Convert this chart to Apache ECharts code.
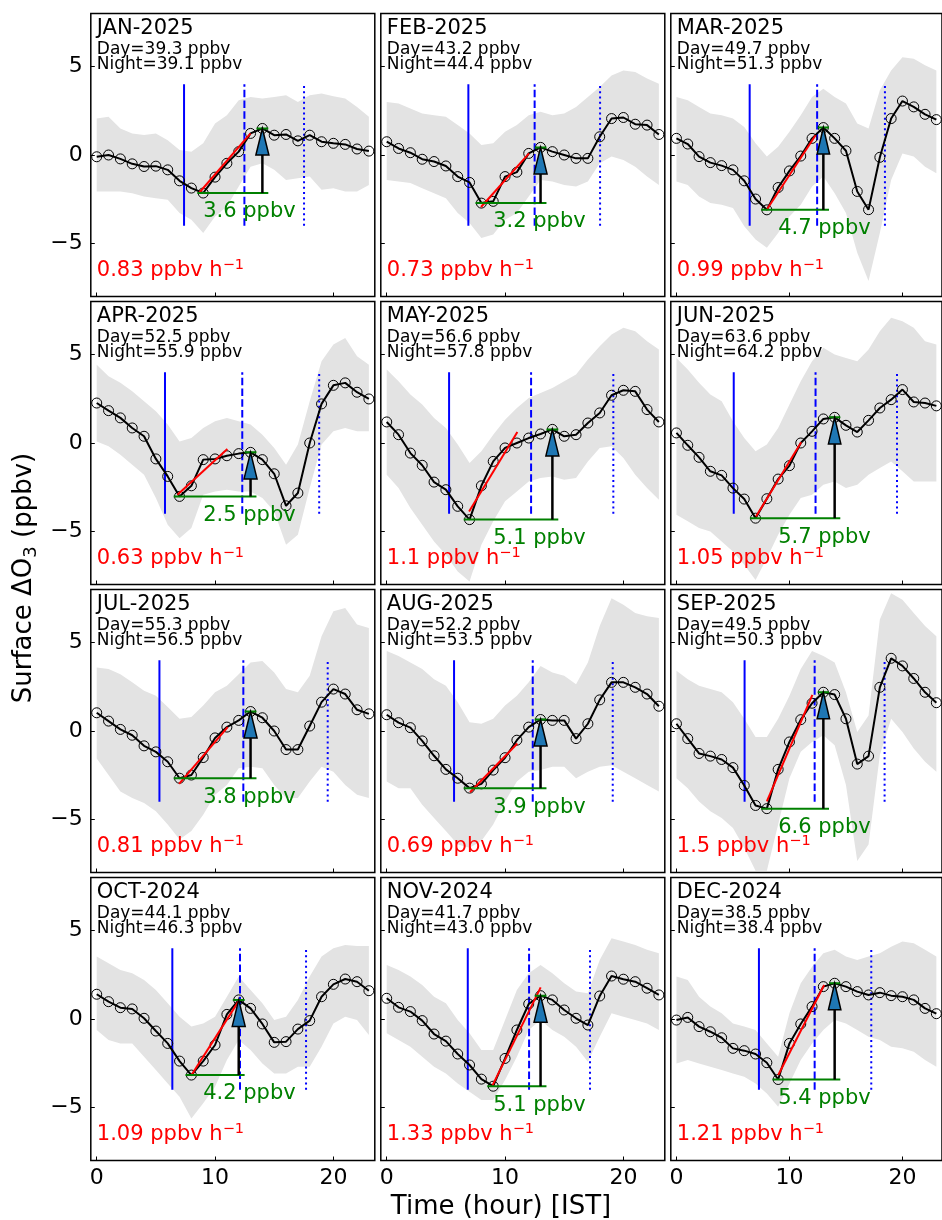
<!DOCTYPE html>
<html><head><meta charset="utf-8">
<script src="https://cdn.jsdelivr.net/npm/echarts@6/dist/echarts.min.js"></script>
<style>html,body{margin:0;padding:0;background:#fff;}#c{width:942px;height:1220px;}</style>
</head><body><div id="c"></div>
<script>
// ---------------- data ----------------
const hours = [0,1,2,3,4,5,6,7,8,9,10,11,12,13,14,15,16,17,18,19,20,21,22,23];
const months = ['JAN-2025','FEB-2025','MAR-2025','APR-2025','MAY-2025','JUN-2025','JUL-2025','AUG-2025','SEP-2025','OCT-2024','NOV-2024','DEC-2024'];
const dayO3   = [39.3,43.2,49.7,52.5,56.6,63.6,55.3,52.2,49.5,44.1,41.7,38.5];
const nightO3 = [39.1,44.4,51.3,55.9,57.8,64.2,56.5,53.5,50.3,46.3,43.0,38.4];
const ampText   = [3.6,3.2,4.7,2.5,5.1,5.7,3.8,3.9,6.6,4.2,5.1,5.4];
const slopeText = ['0.83','0.73','0.99','0.63','1.1','1.05','0.81','0.69','1.5','1.09','1.33','1.21'];
// hour of morning minimum / midday maximum used for the amplitude arrow
const tMin = [9,8,8,7,7,7,7,7,8,8,9,9];
const tMax = [14,13,13,13,14,14,13,13,13,12,13,14];
// sunrise (solid), noon (dashed), sunset (dotted)
const sunrise = [7.38,6.9,6.48,5.77,5.27,5.07,5.3,5.69,6.03,6.39,6.85,7.3];
const noon    = [12.48,12.5,12.45,12.3,12.2,12.31,12.39,12.34,12.23,12.11,12.03,12.23];
const sunset  = [17.52,18.03,18.45,18.8,19.15,19.52,19.52,19.1,18.42,17.69,17.18,17.24];
// linear fit segment endpoints [x1,y1,x2,y2]
const fitJAN=[8.68,-2.12,13.0,1.22], fitFEB=[7.97,-2.94,12.03,0.09], fitMAR=[8.03,-3.05,12.31,1.12],
      fitAPR=[6.82,-2.92,11.04,-0.34], fitMAY=[6.96,-3.87,11.04,0.62], fitJUN=[7.04,-4.15,11.04,0.04],
      fitJUL=[6.96,-2.99,11.07,0.22], fitAUG=[7.04,-3.46,11.04,-0.71], fitSEP=[8.0,-3.98,12.03,2.04],
      fitOCT=[7.97,-3.21,12.06,1.08], fitNOV=[8.93,-3.77,13.01,1.79], fitDEC=[9.01,-3.17,13.07,1.92];

const meanJAN=[-0.1,0.0,-0.22,-0.5,-0.65,-0.63,-0.84,-1.46,-1.87,-2.15,-1.25,-0.47,0.19,1.22,1.5,1.12,1.16,0.8,1.12,0.75,0.66,0.6,0.34,0.22];
const upJAN=[2.06,2.16,1.5,1.22,1.13,1.22,0.84,0.28,0.19,0.66,1.78,2.25,3.1,3.28,3.19,3.28,3.38,3.0,3.38,3.47,3.32,3.19,2.72,2.16];
const loJAN=[-2.06,-2.06,-2.06,-2.16,-2.35,-2.44,-2.53,-3.28,-3.66,-4.41,-3.47,-2.91,-1.78,-0.66,-0.47,-0.84,-1.41,-1.31,-1.22,-1.97,-1.88,-2.06,-2.06,-1.69];

const meanFEB=[0.75,0.37,0.13,-0.24,-0.37,-0.62,-1.22,-1.55,-2.72,-2.62,-1.22,-0.97,0.09,0.43,0.19,0.0,-0.19,-0.19,1.03,2.06,2.12,1.74,1.69,1.16];
const upFEB=[3.0,2.91,2.63,2.35,2.25,2.16,1.69,1.22,0.56,0.66,1.31,1.69,2.25,2.44,2.25,2.35,2.72,3.28,3.85,4.5,4.78,4.69,4.32,4.03];
const loFEB=[-1.41,-1.5,-1.59,-1.88,-2.16,-2.44,-3.28,-3.85,-4.69,-4.5,-3.66,-3.28,-2.35,-1.41,-1.5,-1.69,-1.78,-1.5,-0.47,-0.09,-0.28,-0.66,-1.22,-1.69];

const meanMAR=[0.94,0.62,-0.09,-0.43,-0.6,-0.84,-1.46,-2.49,-3.1,-1.84,-0.9,-0.06,0.94,1.55,0.94,0.24,-2.06,-3.09,-0.13,2.06,3.05,2.72,2.3,2.0];
const upMAR=[3.28,3.1,2.72,2.35,2.25,2.06,1.59,0.66,-0.09,0.47,1.31,2.25,3.28,3.75,3.28,2.91,1.78,1.5,3.66,4.78,5.53,5.44,5.07,4.78];
const loMAR=[-1.5,-1.69,-2.35,-2.72,-2.81,-3.0,-4.03,-4.78,-5.25,-4.41,-3.47,-2.81,-1.78,-1.22,-2.16,-3.28,-5.53,-7.13,-4.41,-1.41,0.09,-0.09,-0.66,-1.03];

const meanAPR=[2.26,1.83,1.42,0.85,0.38,-0.9,-1.89,-3.02,-2.42,-0.94,-0.9,-0.72,-0.6,-0.53,-0.94,-1.74,-3.55,-2.83,0.0,2.21,3.26,3.4,2.87,2.49];
const upAPR=[4.43,3.77,3.4,2.92,2.36,1.79,1.04,0.09,0.28,0.85,1.23,1.42,1.23,1.04,0.47,-0.28,-1.23,-0.09,2.36,4.62,5.57,5.94,4.91,4.43];
const loAPR=[0.09,-0.19,-0.66,-1.23,-1.79,-3.11,-4.62,-5.38,-4.81,-2.92,-2.74,-2.64,-2.74,-2.74,-3.11,-3.87,-5.75,-5.19,-2.55,-0.09,0.66,0.85,0.66,0.66];

const meanMAY=[1.19,0.47,-0.57,-1.26,-2.21,-2.64,-3.58,-4.33,-2.42,-1.04,-0.28,0.0,0.28,0.51,0.77,0.38,0.47,1.13,1.7,2.7,2.98,2.92,1.89,1.19];
const upMAY=[4.15,3.49,2.74,2.17,1.42,0.85,-0.09,-1.13,-0.47,0.47,1.32,1.98,2.55,2.83,3.11,3.49,3.87,4.72,5.47,6.13,6.51,6.32,5.75,5.28];
const loMAY=[-1.79,-2.55,-3.68,-4.62,-5.57,-6.32,-7.26,-7.83,-5.75,-4.43,-3.3,-2.74,-2.17,-1.98,-1.89,-2.08,-1.98,-1.04,-0.28,-0.19,-0.85,-1.79,-2.55,-3.21];

const meanJUN=[0.57,-0.13,-0.81,-1.6,-1.83,-2.55,-3.17,-4.25,-3.15,-2.04,-1.28,0.0,0.66,1.36,1.45,1.0,0.62,1.28,1.98,2.45,3.02,2.32,2.26,2.1];
const upJUN=[4.81,4.15,3.4,2.74,2.36,1.23,0.28,-0.47,-0.09,0.85,2.17,3.49,4.62,5.38,5.0,4.81,4.62,5.28,6.32,7.08,6.89,6.51,5.75,5.57];
const loJUN=[-4.06,-4.43,-4.81,-5.0,-5.57,-6.13,-6.89,-7.74,-6.51,-5.19,-4.06,-3.11,-2.92,-2.36,-2.17,-2.55,-2.36,-1.79,-1.42,-1.04,-1.6,-2.17,-2.17,-2.17];

const meanJUL=[1.03,0.56,0.09,-0.24,-0.84,-1.18,-1.74,-2.67,-2.49,-1.5,-0.39,0.22,0.6,1.1,0.75,0.0,-1.05,-1.05,0.28,1.63,2.37,2.09,1.2,0.97];
const upJUL=[3.59,3.5,3.21,2.75,2.28,2.0,1.35,0.69,0.79,1.44,2.19,2.56,3.21,3.87,3.96,3.31,2.37,2.19,3.12,5.36,6.77,6.95,6.02,5.83];
const loJUL=[-1.55,-2.49,-3.42,-3.79,-4.07,-4.54,-5.29,-6.13,-5.66,-4.73,-3.61,-3.05,-2.11,-2.02,-2.11,-3.05,-3.79,-3.79,-2.86,-2.02,-2.3,-3.05,-3.61,-3.79];

const meanAUG=[0.92,0.47,0.19,-0.56,-1.4,-2.17,-2.67,-3.23,-2.99,-2.21,-1.51,-0.52,0.22,0.65,0.6,0.6,-0.43,0.41,1.76,2.75,2.75,2.47,2.09,1.4];
const upAUG=[4.52,4.24,3.87,3.5,2.93,2.56,1.63,0.5,0.41,0.69,1.44,2.0,2.75,3.68,3.31,3.12,2.65,3.87,5.93,7.51,7.14,6.67,6.49,6.39];
const loAUG=[-2.86,-3.23,-3.23,-4.17,-4.92,-5.66,-6.41,-6.6,-6.22,-5.29,-3.98,-2.86,-2.3,-2.21,-2.02,-2.02,-2.67,-2.3,-2.02,-1.93,-2.3,-2.67,-3.05,-3.42];

const meanSEP=[0.41,-0.43,-1.27,-1.42,-1.61,-2.07,-3.08,-4.21,-4.39,-2.17,-0.62,0.64,1.57,2.19,2.06,0.69,-1.87,-1.42,2.47,4.11,3.68,2.97,2.19,1.6];
const upSEP=[3.4,2.93,2.56,2.37,2.19,1.63,0.69,-0.34,-0.34,0.69,2.0,3.5,4.52,4.24,3.87,2.19,-0.06,0.88,6.3,7.79,7.42,6.67,5.93,5.36];
const loSEP=[-2.67,-3.23,-3.98,-4.54,-4.92,-5.48,-6.6,-7.9,-7.9,-5.29,-2.67,-1.18,-0.62,-0.24,-0.8,-3.05,-7.35,-6.41,-1.36,0.69,-0.06,-0.99,-1.74,-2.3];

const meanOCT=[1.4,0.98,0.64,0.57,0.04,-0.68,-1.38,-2.38,-3.17,-2.38,-1.47,0.26,1.08,0.6,-0.28,-1.32,-1.28,-0.57,-0.09,1.26,1.96,2.26,2.11,1.6];
const upOCT=[3.53,3.15,2.77,2.58,2.21,1.64,0.89,0.13,-0.43,-0.25,0.13,1.26,2.4,1.64,0.89,-0.06,0.13,1.08,2.4,3.53,4.0,4.19,4.13,4.13];
const loOCT=[-0.62,-1.19,-1.38,-1.38,-2.13,-2.89,-3.64,-4.4,-5.62,-4.77,-3.83,-2.32,-1.19,-1.75,-2.51,-3.08,-3.08,-2.7,-2.7,-1.57,-0.25,0.13,-0.06,-0.91];

const meanNOV=[1.17,0.66,0.42,-0.09,-0.85,-1.25,-1.98,-2.6,-3.4,-3.8,-2.23,-0.62,0.85,1.32,1.08,0.51,0.04,-0.34,1.3,2.43,2.25,2.11,1.74,1.36];
const upNOV=[3.06,2.77,2.4,1.92,1.26,0.89,-0.06,-0.81,-1.75,-1.75,-0.06,1.64,2.58,3.06,2.58,2.02,1.55,1.45,3.34,4.57,4.38,4.19,3.91,3.72];
const loNOV=[-0.81,-1.19,-1.57,-2.13,-2.7,-3.08,-3.64,-4.11,-4.58,-4.58,-3.45,-2.13,-0.62,-0.06,-0.62,-1.0,-1.57,-2.42,-1.0,0.32,0.13,-0.06,-0.25,-0.62];

const meanDEC=[-0.06,0.09,-0.43,-0.72,-1.06,-1.66,-1.79,-1.98,-2.47,-3.42,-1.38,-0.28,0.7,1.83,2.02,1.83,1.55,1.36,1.49,1.32,1.26,1.08,0.6,0.3];
const upDEC=[2.4,2.21,1.26,0.7,0.32,-0.25,-0.43,-0.62,-1.38,-2.13,0.32,2.02,2.96,3.72,3.91,3.53,3.34,3.53,3.72,4.09,4.38,4.28,3.91,3.53];
const loDEC=[-2.51,-2.32,-2.51,-2.7,-2.89,-3.08,-3.26,-3.64,-4.21,-4.96,-3.64,-2.32,-1.38,-0.62,-0.06,-0.25,-0.62,-1.0,-1.19,-1.57,-1.66,-1.85,-2.32,-2.7];

const xTickValues = [0,10,20];
const yTickValues = [-5,0,5];

// ---------------- build ----------------
const meanList=[meanJAN,meanFEB,meanMAR,meanAPR,meanMAY,meanJUN,meanJUL,meanAUG,meanSEP,meanOCT,meanNOV,meanDEC];
const upList=[upJAN,upFEB,upMAR,upAPR,upMAY,upJUN,upJUL,upAUG,upSEP,upOCT,upNOV,upDEC];
const loList=[loJAN,loFEB,loMAR,loAPR,loMAY,loJUN,loJUL,loAUG,loSEP,loOCT,loNOV,loDEC];
const fitList=[fitJAN,fitFEB,fitMAR,fitAPR,fitMAY,fitJUN,fitJUL,fitAUG,fitSEP,fitOCT,fitNOV,fitDEC];

const FONT = 'DejaVu Sans';
const colLeft=[90.8,380.8,670.8], rowTop=[13.5,301.5,589.5,877.5], W=284, H=283;
const headLen = 1.5, headHalf = 0.55;
const fmt = v => (v<0 ? '\u2212'+Math.abs(v) : String(v));

const option = {animation:false, backgroundColor:'#fff', grid:[], xAxis:[], yAxis:[], series:[], graphic:[]};

months.forEach((m,i)=>{
  const r=Math.floor(i/3), c=i%3;
  const mean=meanList[i], up=upList[i], lo=loList[i], fit=fitList[i];
  const x0=colLeft[c], y0=rowTop[r];
  option.grid.push({left:x0, top:y0, width:W, height:H, show:true, borderColor:'#000', borderWidth:1.5, backgroundColor:'rgba(0,0,0,0)'});
  option.xAxis.push({type:'value', gridIndex:i, min:-0.5, max:23.5, position:'bottom',
    axisLine:{show:false, onZero:false}, splitLine:{show:false},
    axisTick:{show:true, inside:true, length:4, customValues:xTickValues, lineStyle:{color:'#000', width:1}},
    axisLabel:{show:r===3, customValues:xTickValues, fontSize:22, fontFamily:FONT, color:'#000', margin:7, formatter:fmt}});
  option.yAxis.push({type:'value', gridIndex:i, min:-8, max:8, position:'left',
    axisLine:{show:false, onZero:false}, splitLine:{show:false},
    axisTick:{show:true, inside:true, length:4, customValues:yTickValues, lineStyle:{color:'#000', width:1}},
    axisLabel:{show:c===0, customValues:yTickValues, fontSize:22, fontFamily:FONT, color:'#000', margin:8, formatter:fmt}});
  const ax = {xAxisIndex:i, yAxisIndex:i};
  // band
  option.series.push(Object.assign({type:'custom', z:1, clip:true, silent:true, data:[[0,0]],
    renderItem:(params, api)=>{
      const pts=[];
      hours.forEach(h=>pts.push(api.coord([h, up[h]])));
      for(let k=hours.length-1;k>=0;k--) pts.push(api.coord([hours[k], lo[k]]));
      return {type:'polygon', shape:{points:pts}, style:{fill:'#e3e3e3'}};
    }}, ax));
  // vertical lines
  [[sunrise[i],'solid'],[noon[i],[7.5,3.2]],[sunset[i],[2,3.3]]].forEach(([xv,ty])=>{
    option.series.push(Object.assign({type:'line', z:2, silent:true, showSymbol:false, symbol:'none',
      data:[[xv,-4],[xv,4]], lineStyle:{color:'#0000ff', width:2, type:ty}}, ax));
  });
  // mean line
  option.series.push(Object.assign({type:'line', z:3, silent:true,
    data:hours.map(h=>[h, mean[h]]), symbol:'circle', symbolSize:10, showSymbol:true,
    itemStyle:{color:'rgba(0,0,0,0)', borderColor:'#000', borderWidth:1},
    lineStyle:{color:'#000', width:2}}, ax));
  // fit line
  option.series.push(Object.assign({type:'line', z:4, silent:true, symbol:'none',
    data:[[fit[0],fit[1]],[fit[2],fit[3]]], lineStyle:{color:'#ff0000', width:2}}, ax));
  const yMin = mean[tMin[i]], yMax = mean[tMax[i]];
  // green amplitude lines
  option.series.push(Object.assign({type:'line', z:5, silent:true, symbol:'none',
    data:[[tMin[i]-0.5,yMin],[tMax[i]+0.5,yMin]], lineStyle:{color:'#008000', width:2}}, ax));
  option.series.push(Object.assign({type:'line', z:5, silent:true, symbol:'none',
    data:[[tMax[i]-0.5,yMax],[tMax[i]+0.5,yMax]], lineStyle:{color:'#008000', width:2}}, ax));
  // arrow
  option.series.push(Object.assign({type:'custom', z:6, silent:true, data:[[tMax[i], yMax]],
    renderItem:(params, api)=>{
      const bot=api.coord([tMax[i], yMin]);
      const base=api.coord([tMax[i], yMax-headLen]);
      const tip=api.coord([tMax[i], yMax]);
      const l=api.coord([tMax[i]-headHalf, yMax-headLen]);
      const rr=api.coord([tMax[i]+headHalf, yMax-headLen]);
      return {type:'group', children:[
        {type:'line', shape:{x1:bot[0],y1:bot[1],x2:base[0],y2:base[1]}, style:{stroke:'#000', lineWidth:2.5}},
        {type:'polygon', shape:{points:[l,rr,tip]}, style:{fill:'#1f77b4', stroke:'#000', lineWidth:1.5, lineJoin:'miter'}}
      ]};
    }}, ax));
  // amplitude text
  option.series.push(Object.assign({type:'scatter', z:7, silent:true, symbolSize:0,
    itemStyle:{opacity:1},
    data:[[9, yMin-1.07]],
    label:{show:true, position:'right', distance:0, formatter:ampText[i].toFixed(1)+' ppbv', opacity:1,
      fontSize:21, fontFamily:FONT, color:'#008000'}}, ax));
  // panel texts
  option.graphic.push({type:'text', x:x0+6, y:y0+15, z:10, silent:true,
    style:{text:m, fontSize:21, fontFamily:FONT, fill:'#000', align:'left', verticalAlign:'middle'}});
  option.graphic.push({type:'text', x:x0+6, y:y0+36, z:10, silent:true,
    style:{text:'Day='+dayO3[i].toFixed(1)+' ppbv', fontSize:17, fontFamily:FONT, fill:'#000', align:'left', verticalAlign:'middle'}});
  option.graphic.push({type:'text', x:x0+6, y:y0+51.5, z:10, silent:true,
    style:{text:'Night='+nightO3[i].toFixed(1)+' ppbv', fontSize:17, fontFamily:FONT, fill:'#000', align:'left', verticalAlign:'middle'}});
  option.graphic.push({type:'text', x:x0+6, y:y0+257, z:10, silent:true,
    style:{text:'{a|'+slopeText[i]+' ppbv h}{s|\u22121}', align:'left', verticalAlign:'middle',
      rich:{a:{fontSize:21, fontFamily:FONT, fill:'#ff0000', lineHeight:26},
            s:{fontSize:14.5, fontFamily:FONT, fill:'#ff0000', lineHeight:16, verticalAlign:'top'}}}});
});

option.graphic.push({type:'text', x:24, y:578, rotation:Math.PI/2, silent:true,
  style:{text:'{m|Surface \u0394O}{b|3}{m| (ppbv)}', align:'center', verticalAlign:'middle',
    rich:{m:{fontSize:26, fontFamily:FONT, fill:'#000', lineHeight:32},
          b:{fontSize:18, fontFamily:FONT, fill:'#000', lineHeight:22, verticalAlign:'bottom'}}}});
option.graphic.push({type:'text', x:501, y:1207, silent:true,
  style:{text:'Time (hour) [IST]', fontSize:26, fontFamily:FONT, fill:'#000', align:'center', verticalAlign:'middle'}});

const chart = echarts.init(document.getElementById('c'), null, {renderer:'canvas'});
chart.setOption(option);
</script></body></html>
